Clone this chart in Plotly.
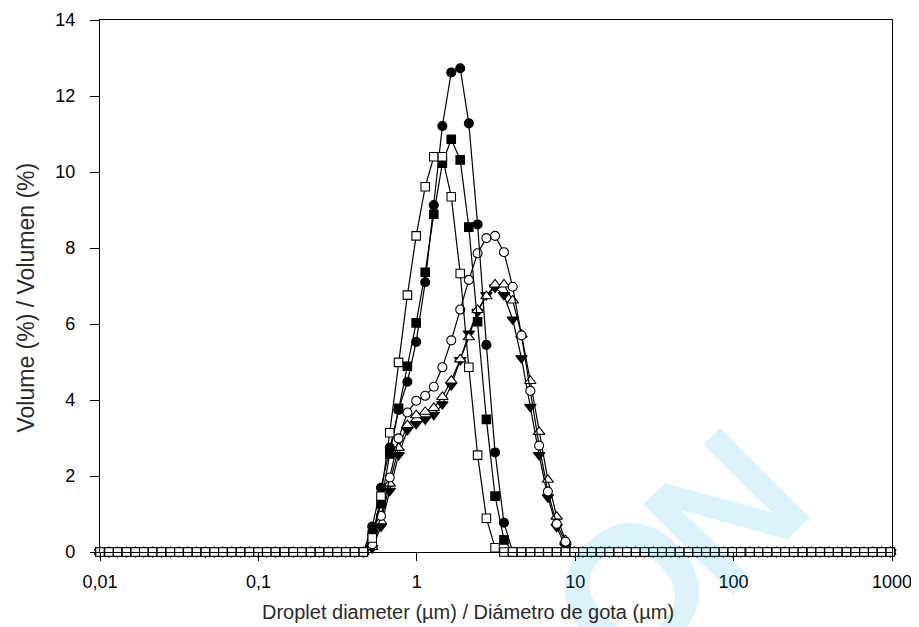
import plotly.graph_objects as go

# Size classes (µm)
sizes = [0.0100, 0.0114, 0.0129, 0.0147, 0.0167, 0.0189, 0.0215, 0.0244, 0.0278, 0.0315,
         0.0358, 0.0407, 0.0463, 0.0526, 0.0597, 0.0679, 0.0771, 0.0876, 0.0995, 0.113,
         0.128, 0.146, 0.166, 0.188, 0.214, 0.243, 0.276, 0.314, 0.357, 0.405,
         0.460, 0.523, 0.594, 0.675, 0.767, 0.872, 0.991, 1.13, 1.28, 1.45,
         1.65, 1.88, 2.13, 2.42, 2.75, 3.12, 3.55, 4.03, 4.58, 5.21,
         5.92, 6.72, 7.64, 8.68, 9.86, 11.2, 12.7, 14.5, 16.4, 18.7,
         21.2, 24.1, 27.4, 31.1, 35.3, 40.1, 45.6, 51.8, 58.9, 66.9,
         76.0, 86.4, 98.1, 111, 127, 144, 163, 186, 211, 240,
         272, 310, 352, 400, 454, 516, 586, 666, 756, 859, 976]

Z10 = [0, 0, 0, 0, 0, 0, 0, 0, 0, 0]

# Volume (%) per size class
vol_filled_circle = (Z10 + Z10 + Z10 + [0,
    0.67, 1.69, 2.75, 3.74, 4.48, 5.53, 7.10, 9.13, 11.21, 12.62,
    12.73, 11.28, 8.62, 5.45, 2.62, 0.77, 0, 0, 0, 0,
    0, 0, 0, 0, 0, 0, 0, 0, 0, 0] + Z10 + Z10 + Z10)
vol_filled_square = (Z10 + Z10 + Z10 + [0,
    0.45, 1.27, 2.58, 3.78, 4.89, 6.03, 7.36, 8.89, 10.23, 10.86,
    10.32, 8.55, 6.06, 3.49, 1.47, 0.32, 0, 0, 0, 0,
    0, 0, 0, 0, 0, 0, 0, 0, 0, 0] + Z10 + Z10 + Z10)
vol_open_square = (Z10 + Z10 + Z10 + [0,
    0.37, 1.47, 3.14, 4.99, 6.76, 8.32, 9.61, 10.40, 10.40, 9.35,
    7.33, 4.86, 2.55, 0.89, 0.11, 0, 0, 0, 0, 0,
    0, 0, 0, 0, 0, 0, 0, 0, 0, 0] + Z10 + Z10 + Z10)
vol_open_circle = (Z10 + Z10 + Z10 + [0,
    0.20, 0.95, 1.96, 2.99, 3.67, 3.98, 4.11, 4.35, 4.86, 5.57,
    6.38, 7.16, 7.86, 8.26, 8.32, 7.89, 6.98, 5.70, 4.24, 2.80,
    1.59, 0.74, 0.27, 0, 0, 0, 0, 0, 0, 0] + Z10 + Z10 + Z10)
vol_open_triangle = (Z10 + Z10 + Z10 + [0,
    0.13, 0.81, 1.80, 2.74, 3.34, 3.60, 3.69, 3.79, 4.08, 4.51,
    5.07, 5.65, 6.37, 6.73, 7.04, 7.04, 6.62, 5.72, 4.50, 3.16,
    1.90, 0.93, 0.31, 0, 0, 0, 0, 0, 0, 0] + Z10 + Z10 + Z10)
vol_filled_tri_down = (Z10 + Z10 + Z10 + [0,
    0.10, 0.67, 1.61, 2.55, 3.21, 3.37, 3.49, 3.61, 3.89, 4.39,
    5.05, 5.75, 6.32, 6.76, 6.96, 6.76, 6.12, 5.10, 3.82, 2.55,
    1.44, 0.66, 0.15, 0, 0, 0, 0, 0, 0, 0] + Z10 + Z10 + Z10)

x_tickvals = [0.01, 0.1, 1, 10, 100, 1000]
x_ticktext = ["0,01", "0,1", "1", "10", "100", "1000"]
y_tickvals = [0, 2, 4, 6, 8, 10, 12, 14]

x_title = "Droplet diameter (µm) / Diámetro de gota (µm)"
y_title = "Volume (%) / Volumen (%)"
watermark_letters = ["O", "N"]

fig = go.Figure()

series = [
    (vol_filled_tri_down, "triangle-down", "black", 10),
    (vol_open_triangle, "triangle-up", "white", 10),
    (vol_open_circle, "circle", "white", 9),
    (vol_filled_circle, "circle", "black", 9),
    (vol_filled_square, "square", "black", 8.5),
    (vol_open_square, "square", "white", 8.5),
]
for vals, sym, fill, sz in series:
    fig.add_trace(go.Scatter(
        x=sizes, y=vals, mode="lines+markers",
        line=dict(color="black", width=1.2),
        marker=dict(symbol=sym, size=sz, color=fill,
                    line=dict(color="black", width=1.1)),
        cliponaxis=False, showlegend=False, hoverinfo="skip"))

tick_font = dict(family="Liberation Sans, Arial, sans-serif", size=18, color="black")
title_font_x = dict(family="Liberation Sans, Arial, sans-serif", size=20, color="#2a2a2a")
title_font_y = dict(family="Liberation Sans, Arial, sans-serif", size=23, color="#2a2a2a")
wm_font = dict(family="Liberation Sans, Arial, sans-serif", size=185,
               color="rgba(0,175,233,0.14)", weight="bold")

# faint watermark letters (rotated)
wm_pos = [(0.672, -0.071), (0.79, 0.078)]
wm_annotations = []
for letter, (px, py) in zip(watermark_letters, wm_pos):
    wm_annotations.append(dict(text=letter, xref="paper", yref="paper", x=px, y=py,
                               xanchor="center", yanchor="middle", textangle=-45,
                               showarrow=False, font=wm_font))

fig.update_layout(
    template="none",
    width=919, height=627,
    margin=dict(l=92, r=35, t=12, b=83, autoexpand=False),
    paper_bgcolor="white", plot_bgcolor="white",
    xaxis=dict(type="log", range=[-2, 3], tickvals=x_tickvals, ticktext=x_ticktext,
               ticks="outside", ticklen=8, tickwidth=1.2, tickcolor="black",
               showline=True, linecolor="black", linewidth=1.3, mirror=True,
               showgrid=False, zeroline=False, tickfont=tick_font,
               ticklabelstandoff=5, automargin=False),
    yaxis=dict(range=[0, 14], tickvals=y_tickvals,
               ticks="outside", ticklen=9, tickwidth=1.2, tickcolor="black",
               showline=True, linecolor="black", linewidth=1.3, mirror=True,
               showgrid=False, zeroline=False, tickfont=tick_font,
               ticklabelstandoff=11, automargin=False),
    annotations=wm_annotations + [
        dict(text=x_title, xref="paper", yref="paper", x=0.4646, y=-0.113,
             xanchor="center", yanchor="middle", showarrow=False, font=title_font_x),
        dict(text=y_title, xref="paper", yref="paper", x=-0.093, y=0.479,
             xanchor="center", yanchor="middle", textangle=-90, showarrow=False,
             font=title_font_y),
    ],
)

fig.write_html("out.html")
